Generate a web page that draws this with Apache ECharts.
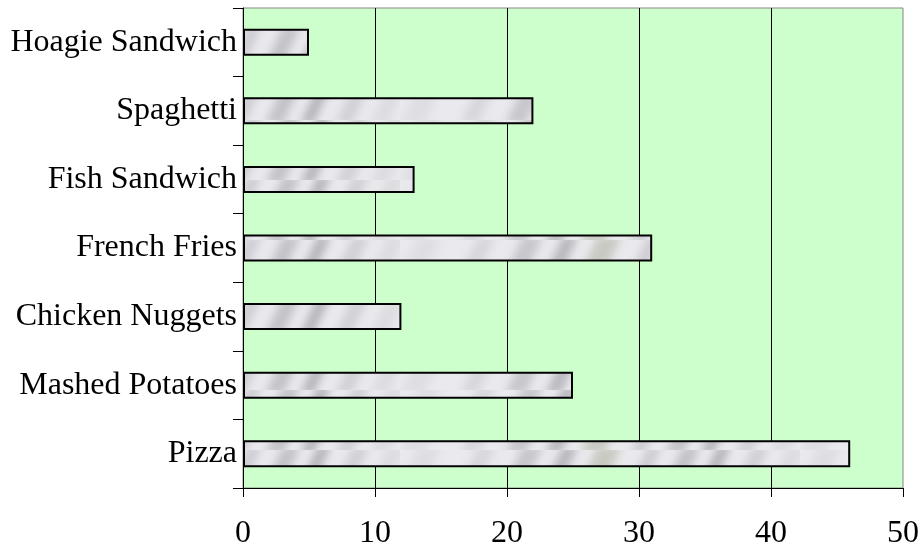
<!DOCTYPE html>
<html>
<head>
<meta charset="utf-8">
<script src="https://cdn.jsdelivr.net/npm/echarts@6/dist/echarts.min.js"></script>
<style>
  html, body { margin: 0; padding: 0; background: #fff; }
  #chart { width: 922px; height: 550px; }
</style>
</head>
<body>
<div id="chart"></div>
<script>
// data, bottom to top
const categories = [
  "Pizza",
  "Mashed Potatoes",
  "Chicken Nuggets",
  "French Fries",
  "Fish Sandwich",
  "Spaghetti",
  "Hoagie Sandwich",
];
const values = [46, 25, 12, 31, 13, 22, 5];
const xTicks = [0, 10, 20, 30, 40, 50];

// marble-ish texture for the bars
const makeMarble = () => {
  let c = document.createElement("canvas");
  c.width = 400;
  c.height = 30;
  let ctx = c.getContext("2d");
  ctx.fillStyle = "#eaeaee";
  ctx.fillRect(0, 0, c.width, c.height);
  ctx.filter = "blur(4px)";
  // soft diagonal smudges: [x, width, colour]
  let streaks = [
    [0, 40, "#dedee2"], [60, 30, "#d6d6dc"], [105, 34, "#c6c6cc"],
    [145, 26, "#b8b8be"], [180, 40, "#c8cac2"], [230, 24, "#ccccd2"],
    [265, 30, "#c2c2c8"], [300, 22, "#b4b4ba"], [335, 28, "#d0d0d6"],
    [370, 30, "#dcdce0"],
  ];
  streaks.forEach(([x, w, col]) => {
    ctx.fillStyle = col;
    ctx.beginPath();
    ctx.moveTo(x, 34);
    ctx.lineTo(x + w * 0.6, 34);
    ctx.lineTo(x + w * 0.6 + 18, -4);
    ctx.lineTo(x + 18, -4);
    ctx.closePath();
    ctx.fill();
  });
  ctx.filter = "none";
  return c;
};

const init = () => {
  let chartDom = document.getElementById("chart");
  let myChart = echarts.init(chartDom);
  let font = "'Liberation Serif', 'Times New Roman', serif";
  let option = {
    animation: false,
    grid: {
      left: 243,
      right: 19,
      top: 8,
      bottom: 62,
      show: true,
      backgroundColor: "#CCFFCC",
      borderColor: "#888",
      borderWidth: 1,
    },
    xAxis: {
      type: "value",
      min: xTicks[0],
      max: xTicks[xTicks.length - 1],
      interval: 10,
      axisLine: { show: true, lineStyle: { color: "#000", width: 1 } },
      axisTick: { show: true, length: 9, lineStyle: { color: "#000" } },
      axisLabel: {
        color: "#000",
        fontFamily: font,
        fontSize: 32,
        margin: 30,
      },
      splitLine: {
        show: true,
        showMinLine: false,
        showMaxLine: false,
        lineStyle: { color: "#000", width: 1 },
      },
    },
    yAxis: {
      type: "category",
      data: categories,
      axisLine: { show: true, lineStyle: { color: "#000", width: 1 } },
      axisTick: { show: true, length: 10, lineStyle: { color: "#000" } },
      axisLabel: {
        color: "#000",
        fontFamily: font,
        fontSize: 32,
        margin: 6,
      },
      splitLine: { show: false },
    },
    series: [
      {
        type: "bar",
        data: values,
        barWidth: 27,
        itemStyle: {
          color: { image: makeMarble(), repeat: "repeat" },
          borderColor: "#000",
          borderWidth: 2,
        },
      },
    ],
  };
  myChart.setOption(option);
};

init();
</script>
</body>
</html>
